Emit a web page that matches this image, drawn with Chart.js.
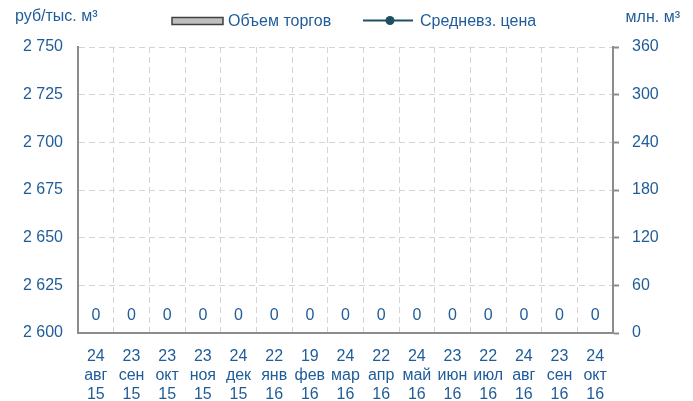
<!DOCTYPE html>
<html>
<head>
<meta charset="utf-8">
<script src="https://cdn.jsdelivr.net/npm/chart.js@4/dist/chart.umd.min.js"></script>
<style>
html,body{margin:0;padding:0;background:#fff;}
#wrap{width:693px;height:401px;position:relative;}
</style>
</head>
<body>
<div id="wrap"><canvas id="c" width="693" height="401"></canvas></div>
<script>
const days = ["24","23","23","23","24","22","19","24","22","24","23","22","24","23","24"];
const months = ["авг","сен","окт","ноя","дек","янв","фев","мар","апр","май","июн","июл","авг","сен","окт"];
const years = ["15","15","15","15","15","16","16","16","16","16","16","16","16","16","16"];
const volume = [0,0,0,0,0,0,0,0,0,0,0,0,0,0,0];
const price = [null,null,null,null,null,null,null,null,null,null,null,null,null,null,null];
const leftTicks = [2600,2625,2650,2675,2700,2725,2750];
const rightTicks = [0,60,120,180,240,300,360];
const leftTitle = "руб/тыс. м³";
const rightTitle = "млн. м³";
const legendBar = "Объем торгов";
const legendLine = "Средневз. цена";

const labels = days.map((d,i)=>[d, months[i], years[i]]);
const TXT = "#1F5C99";
const FONT = "'Liberation Sans', Arial, sans-serif";
const fmt = v => { const s = String(v); return s.length > 3 ? s.slice(0, s.length-3) + " " + s.slice(-3) : s; };

const overlay = {
  id: 'overlay',
  afterDraw(chart) {
    const ctx = chart.ctx;
    ctx.save();
    ctx.fillStyle = TXT;
    ctx.font = "16px " + FONT;
    ctx.textBaseline = "alphabetic";
    ctx.textAlign = "left";
    ctx.fillText(leftTitle, 15, 21);
    ctx.textAlign = "right";
    ctx.fillText(rightTitle, 680, 22);
    // legend
    ctx.fillStyle = "#bfbfbf";
    ctx.fillRect(172, 17.5, 51, 7);
    ctx.strokeStyle = "#404040";
    ctx.lineWidth = 1.5;
    ctx.strokeRect(172, 17.5, 51, 7);
    ctx.fillStyle = TXT;
    ctx.textAlign = "left";
    ctx.fillText(legendBar, 228, 26);
    ctx.strokeStyle = "#1E5062";
    ctx.lineWidth = 2;
    ctx.beginPath(); ctx.moveTo(363, 20.5); ctx.lineTo(413, 20.5); ctx.stroke();
    ctx.fillStyle = "#1E5062";
    ctx.beginPath(); ctx.arc(390, 20.5, 4.5, 0, Math.PI*2); ctx.fill();
    ctx.fillStyle = TXT;
    ctx.fillText(legendLine, 420, 26);
    // data labels
    const meta = chart.getDatasetMeta(0);
    ctx.font = "16px " + FONT;
    ctx.textAlign = "center";
    ctx.textBaseline = "middle";
    meta.data.forEach((bar, i) => {
      ctx.fillText(String(volume[i]), bar.x, bar.y - 17);
    });
    ctx.restore();
  }
};

new Chart(document.getElementById('c'), {
  data: {
    labels: labels,
    datasets: [
      { type: 'bar', label: legendBar, data: volume, yAxisID: 'y2', backgroundColor: '#bfbfbf', borderColor: '#404040', borderWidth: 1, order: 2 },
      { type: 'line', label: legendLine, data: price, yAxisID: 'y', borderColor: '#1E5062', backgroundColor: '#1E5062', pointRadius: 4, order: 1 }
    ]
  },
  options: {
    responsive: false,
    animation: false,
    devicePixelRatio: 1,
    layout: { padding: { top: 47, left: 0, right: 0, bottom: 0 } },
    plugins: { legend: { display: false }, tooltip: { enabled: false } },
    scales: {
      x: {
        offset: true,
        grid: { offset: true, color: '#d4d4d4', lineWidth: 1, drawTicks: false },
        border: { display: true, color: '#8c8c8c', width: 2, dash: [6,4] },
        ticks: { color: TXT, font: { family: FONT, size: 16 }, padding: 14, maxRotation: 0, autoSkip: false },
        afterFit(s) { s.height = 68; }
      },
      y: {
        position: 'left',
        min: 2600, max: 2750,
        afterBuildTicks(s) { s.ticks = leftTicks.map(v => ({ value: v })); },
        grid: { color: '#d4d4d4', lineWidth: 1, drawTicks: false },
        border: { display: true, color: '#8c8c8c', width: 2, dash: [6,4] },
        ticks: { color: TXT, font: { family: FONT, size: 16 }, padding: 15, callback: v => fmt(v) },
        afterFit(s) { s.width = 78; }
      },
      y2: {
        position: 'right',
        min: 0, max: 360,
        afterBuildTicks(s) { s.ticks = rightTicks.map(v => ({ value: v })); },
        grid: { drawOnChartArea: false, drawTicks: true, tickLength: 6, tickColor: '#8c8c8c', tickWidth: 2 },
        border: { display: true, color: '#8c8c8c', width: 2 },
        ticks: { color: TXT, font: { family: FONT, size: 16 }, padding: 13 },
        afterFit(s) { s.width = 80; }
      }
    }
  },
  plugins: [overlay]
});
</script>
</body>
</html>
